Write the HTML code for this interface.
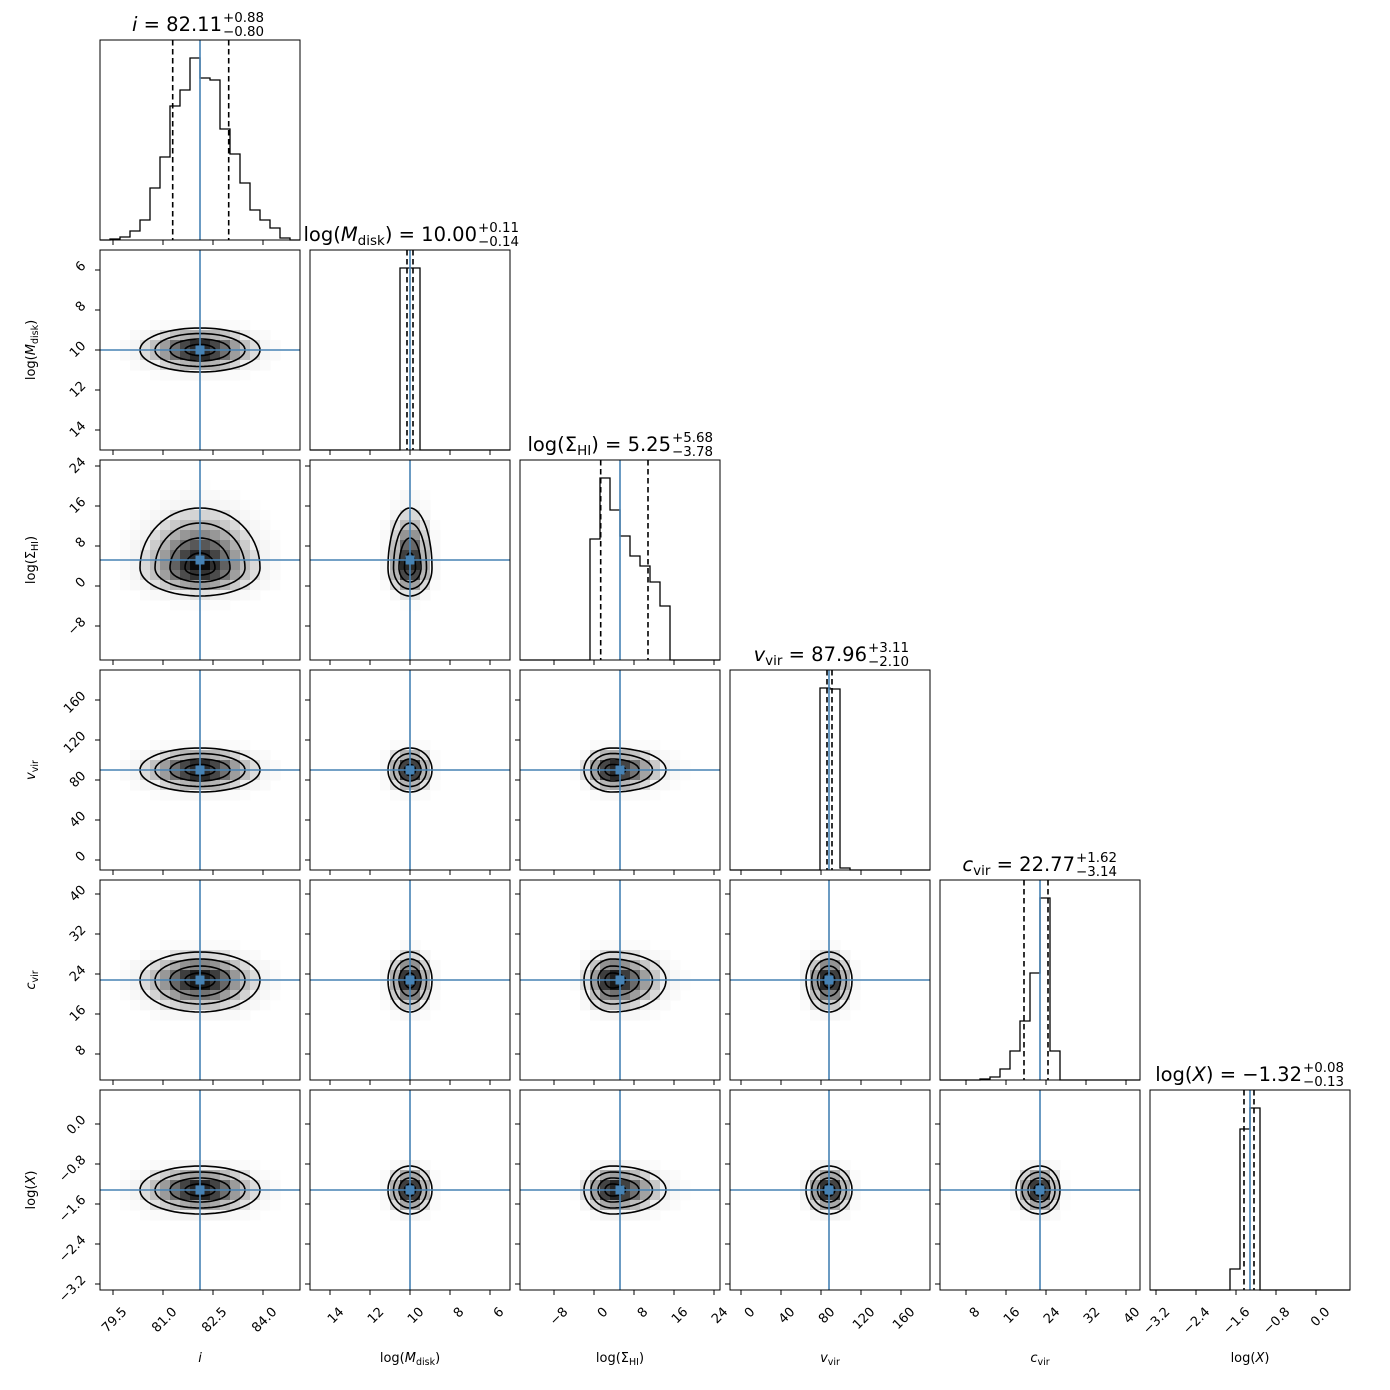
<!DOCTYPE html>
<html><head><meta charset="utf-8">
<style>
html,body{margin:0;padding:0;background:#fff;}
svg{display:block;font-family:"DejaVu Sans","Liberation Sans",sans-serif;}
</style></head>
<body>
<svg id="s" width="1390" height="1390" viewBox="0 0 1390 1390" xmlns="http://www.w3.org/2000/svg"></svg>
<script>
const S=document.getElementById('s');
let out='';
const X0=j=>100+210*j, Y0=i=>40+210*i;
const P=[
 {x:v=>13+(v-79.5)*33.333, ticks:[79.5,81,82.5,84], lab:['79.5','81.0','82.5','84.0']},
 {x:v=>20+(14-v)*20, y:v=>20+(v-6)*20, ticks:[14,12,10,8,6], lab:['14','12','10','8','6']},
 {x:v=>74+5*v, y:v=>126-5*v, ticks:[-8,0,8,16,24], lab:['−8','0','8','16','24']},
 {x:v=>11+v, y:v=>190-v, ticks:[0,40,80,120,160], lab:['0','40','80','120','160']},
 {x:v=>5*v-14, y:v=>214-5*v, ticks:[8,16,24,32,40], lab:['8','16','24','32','40']},
 {x:v=>166+50*v, y:v=>34-50*v, ticks:[-3.2,-2.4,-1.6,-0.8,0.0], lab:['−3.2','−2.4','−1.6','−0.8','0.0']}
];
const truthX=[100,100,100,99,100,100], truthY=[0,100,100,100,100,100];
const col=[{c:0,L:30,R:30},{c:0,L:11,R:11},{c:-8,L:14,R:27},{c:0,L:11.5,R:11.5},{c:0,L:12,R:10},{c:0,L:12,R:12}];
const row=[null,{c:0,U:11,D:11},{c:8,U:30,D:14},{c:0,U:11,D:11},{c:0,U:14,D:16},{c:0,U:12,D:12}];
const BLUE='#4682b4';
for(let i=1;i<6;i++)for(let j=0;j<i;j++){
 const x0=X0(j),y0=Y0(i);
 const cx=x0+truthX[j]+col[j].c, cy=y0+truthY[i]+row[i].c;
 const cs=col[j], rs=row[i];
 out+=`<svg x="${x0}" y="${y0}" width="200" height="200" overflow="hidden"><g transform="translate(${-x0},${-y0})">`;
 for(let gx=0;gx<20;gx++)for(let gy=0;gy<20;gy++){
  const px=x0+gx*10+5, py=y0+gy*10+5;
  const dx=px-cx, dy=py-cy;
  const sx=dx>0?cs.R:cs.L, sy=dy>0?rs.D:rs.U;
  const r2=(dx/sx)**2+(dy/sy)**2;
  const d=Math.exp(-r2/2);
  if(d<0.02)continue;
  let g=Math.round(255*Math.pow(1-d,0.8));
  if(d<0.14) g=Math.round(238+17*(1-d/0.14));
  out+=`<rect x="${x0+gx*10}" y="${y0+gy*10}" width="10.5" height="10.5" fill="rgb(${g},${g},${g})"/>`;
 }
 for(const r of [0.5,1,1.5,2]){
  let p='';
  for(let k=0;k<=72;k++){const t=k/72*2*Math.PI, ux=Math.cos(t), uy=Math.sin(t);
   const px=cx+r*ux*(ux>0?cs.R:cs.L), py=cy+r*uy*(uy>0?rs.D:rs.U);
   p+=(k?'L':'M')+px.toFixed(1)+' '+py.toFixed(1);}
  out+=`<path d="${p}Z" fill="none" stroke="#000" stroke-width="1.6"/>`;
 }
 const tx=x0+truthX[j], ty=y0+truthY[i];
 out+=`<line x1="${tx}" y1="${y0}" x2="${tx}" y2="${y0+200}" stroke="${BLUE}" stroke-width="1.6"/>`;
 out+=`<line x1="${x0}" y1="${ty}" x2="${x0+200}" y2="${ty}" stroke="${BLUE}" stroke-width="1.6"/>`;
 out+=`<rect x="${tx-4.5}" y="${ty-4.5}" width="9" height="9" fill="${BLUE}"/>`;
 out+=`</g></svg>`;
}
const H=[
 {pts:(()=>{const h=[240,239,237,231,220,188,157,106,90,58,78,80,129,154,183,210,220,228,238,240];let a=[[100,240]];h.forEach((v,k)=>{a.push([100+k*10,v]);a.push([110+k*10,v]);});a.push([300,240]);return a;})(), d:[172.7,228.7]},
 {pts:[[310,450],[400,450],[400,268],[420,268],[420,450],[510,450]], d:[407,413]},
 {pts:[[520,660],[590,660],[590,539],[600,539],[600,478],[610,478],[610,510],[620,510],[620,536],[630,536],[630,556],[640,556],[640,566],[650,566],[650,582],[660,582],[660,606],[670,606],[670,660],[720,660]], d:[600.7,648]},
 {pts:[[730,870],[820,870],[820,688],[830,688],[830,689],[840,689],[840,868],[850,868],[850,870],[930,870]], d:[827,832]},
 {pts:[[940,1080],[980,1080],[980,1079],[990,1079],[990,1077],[1000,1077],[1000,1069],[1010,1069],[1010,1051],[1020,1051],[1020,1021],[1030,1021],[1030,973],[1040,973],[1040,898],[1050,898],[1050,1051],[1060,1051],[1060,1080],[1140,1080]], d:[1024,1048]},
 {pts:[[1150,1290],[1230,1290],[1230,1269],[1240,1269],[1240,1129],[1250,1129],[1250,1108],[1260,1108],[1260,1290],[1350,1290]], d:[1244,1254]}
];
H.forEach((h,k)=>{
 const x0=X0(k),y0=Y0(k);
 out+=`<polyline points="${h.pts.map(p=>p.join(',')).join(' ')}" fill="none" stroke="#000" stroke-width="1.3"/>`;
 h.d.forEach(x=>out+=`<line x1="${x}" y1="${y0}" x2="${x}" y2="${y0+200}" stroke="#000" stroke-width="1.6" stroke-dasharray="5.5,3.5"/>`);
 const tx=x0+truthX[k];
 out+=`<line x1="${tx}" y1="${y0}" x2="${tx}" y2="${y0+200}" stroke="${BLUE}" stroke-width="1.6"/>`;
});
for(let i=0;i<6;i++)for(let j=0;j<=i;j++){
 const x0=X0(j),y0=Y0(i);
 out+=`<rect x="${x0}" y="${y0}" width="200" height="200" fill="none" stroke="#000" stroke-width="1"/>`;
 P[j].ticks.forEach((v,k)=>{const tx=x0+P[j].x(v);
  out+=`<line x1="${tx}" y1="${y0+200}" x2="${tx}" y2="${y0+205}" stroke="#000" stroke-width="1"/>`;
  if(i==5) out+=`<text transform="translate(${tx+12},${y0+220}) rotate(-45)" text-anchor="end" dominant-baseline="central" font-size="13">${P[j].lab[k]}</text>`;
 });
 if(i!=j){
  const vals=P[i].ticks, labs=P[i].lab;
  vals.forEach((v,k)=>{const ty=y0+P[i].y(v);
   out+=`<line x1="${x0-5}" y1="${ty}" x2="${x0}" y2="${ty}" stroke="#000" stroke-width="1"/>`;
   if(j==0) out+=`<text transform="translate(${x0-16},${ty-6}) rotate(-45)" text-anchor="end" dominant-baseline="central" font-size="13">${labs[k]}</text>`;
  });
 }
}
const lab=[
 '<tspan font-style="italic">i</tspan>',
 'log(<tspan font-style="italic">M</tspan><tspan font-size="9.5" dy="3">disk</tspan><tspan dy="-3">)</tspan>',
 'log(Σ<tspan font-size="9.5" dy="3">HI</tspan><tspan dy="-3">)</tspan>',
 '<tspan font-style="italic">v</tspan><tspan font-size="9.5" dy="3">vir</tspan>',
 '<tspan font-style="italic">c</tspan><tspan font-size="9.5" dy="3">vir</tspan>',
 'log(<tspan font-style="italic">X</tspan>)'
];
for(let j=0;j<6;j++) out+=`<text x="${X0(j)+100}" y="1362" text-anchor="middle" font-size="13">${lab[j]}</text>`;
for(let i=1;i<6;i++) out+=`<text transform="translate(35,${Y0(i)+100}) rotate(-90)" text-anchor="middle" font-size="13">${lab[i]}</text>`;
const T=[
 {end:222,y:31,m:'<tspan font-style="italic">i</tspan> = 82.11',p:'+0.88',n:'−0.80'},
 {end:477,y:241,m:'log(<tspan font-style="italic">M</tspan><tspan font-size="13.5" dy="4">disk</tspan><tspan dy="-4">) = 10.00</tspan>',p:'+0.11',n:'−0.14'},
 {end:671,y:451,m:'log(Σ<tspan font-size="13.5" dy="4">HI</tspan><tspan dy="-4">) = 5.25</tspan>',p:'+5.68',n:'−3.78'},
 {end:867,y:661,m:'<tspan font-style="italic">v</tspan><tspan font-size="13.5" dy="4">vir</tspan><tspan dy="-4"> = 87.96</tspan>',p:'+3.11',n:'−2.10'},
 {end:1075,y:871,m:'<tspan font-style="italic">c</tspan><tspan font-size="13.5" dy="4">vir</tspan><tspan dy="-4"> = 22.77</tspan>',p:'+1.62',n:'−3.14'},
 {end:1302,y:1081,m:'log(<tspan font-style="italic">X</tspan>) = −1.32',p:'+0.08',n:'−0.13'}
];
T.forEach(t=>{
 out+=`<text x="${t.end}" y="${t.y}" text-anchor="end" font-size="19.5">${t.m}</text>`;
 out+=`<text x="${t.end+1}" y="${t.y-9}" font-size="13.4">${t.p}</text>`;
 out+=`<text x="${t.end+1}" y="${t.y+5}" font-size="13.4">${t.n}</text>`;
});
S.innerHTML=out;
</script>
</body></html>
